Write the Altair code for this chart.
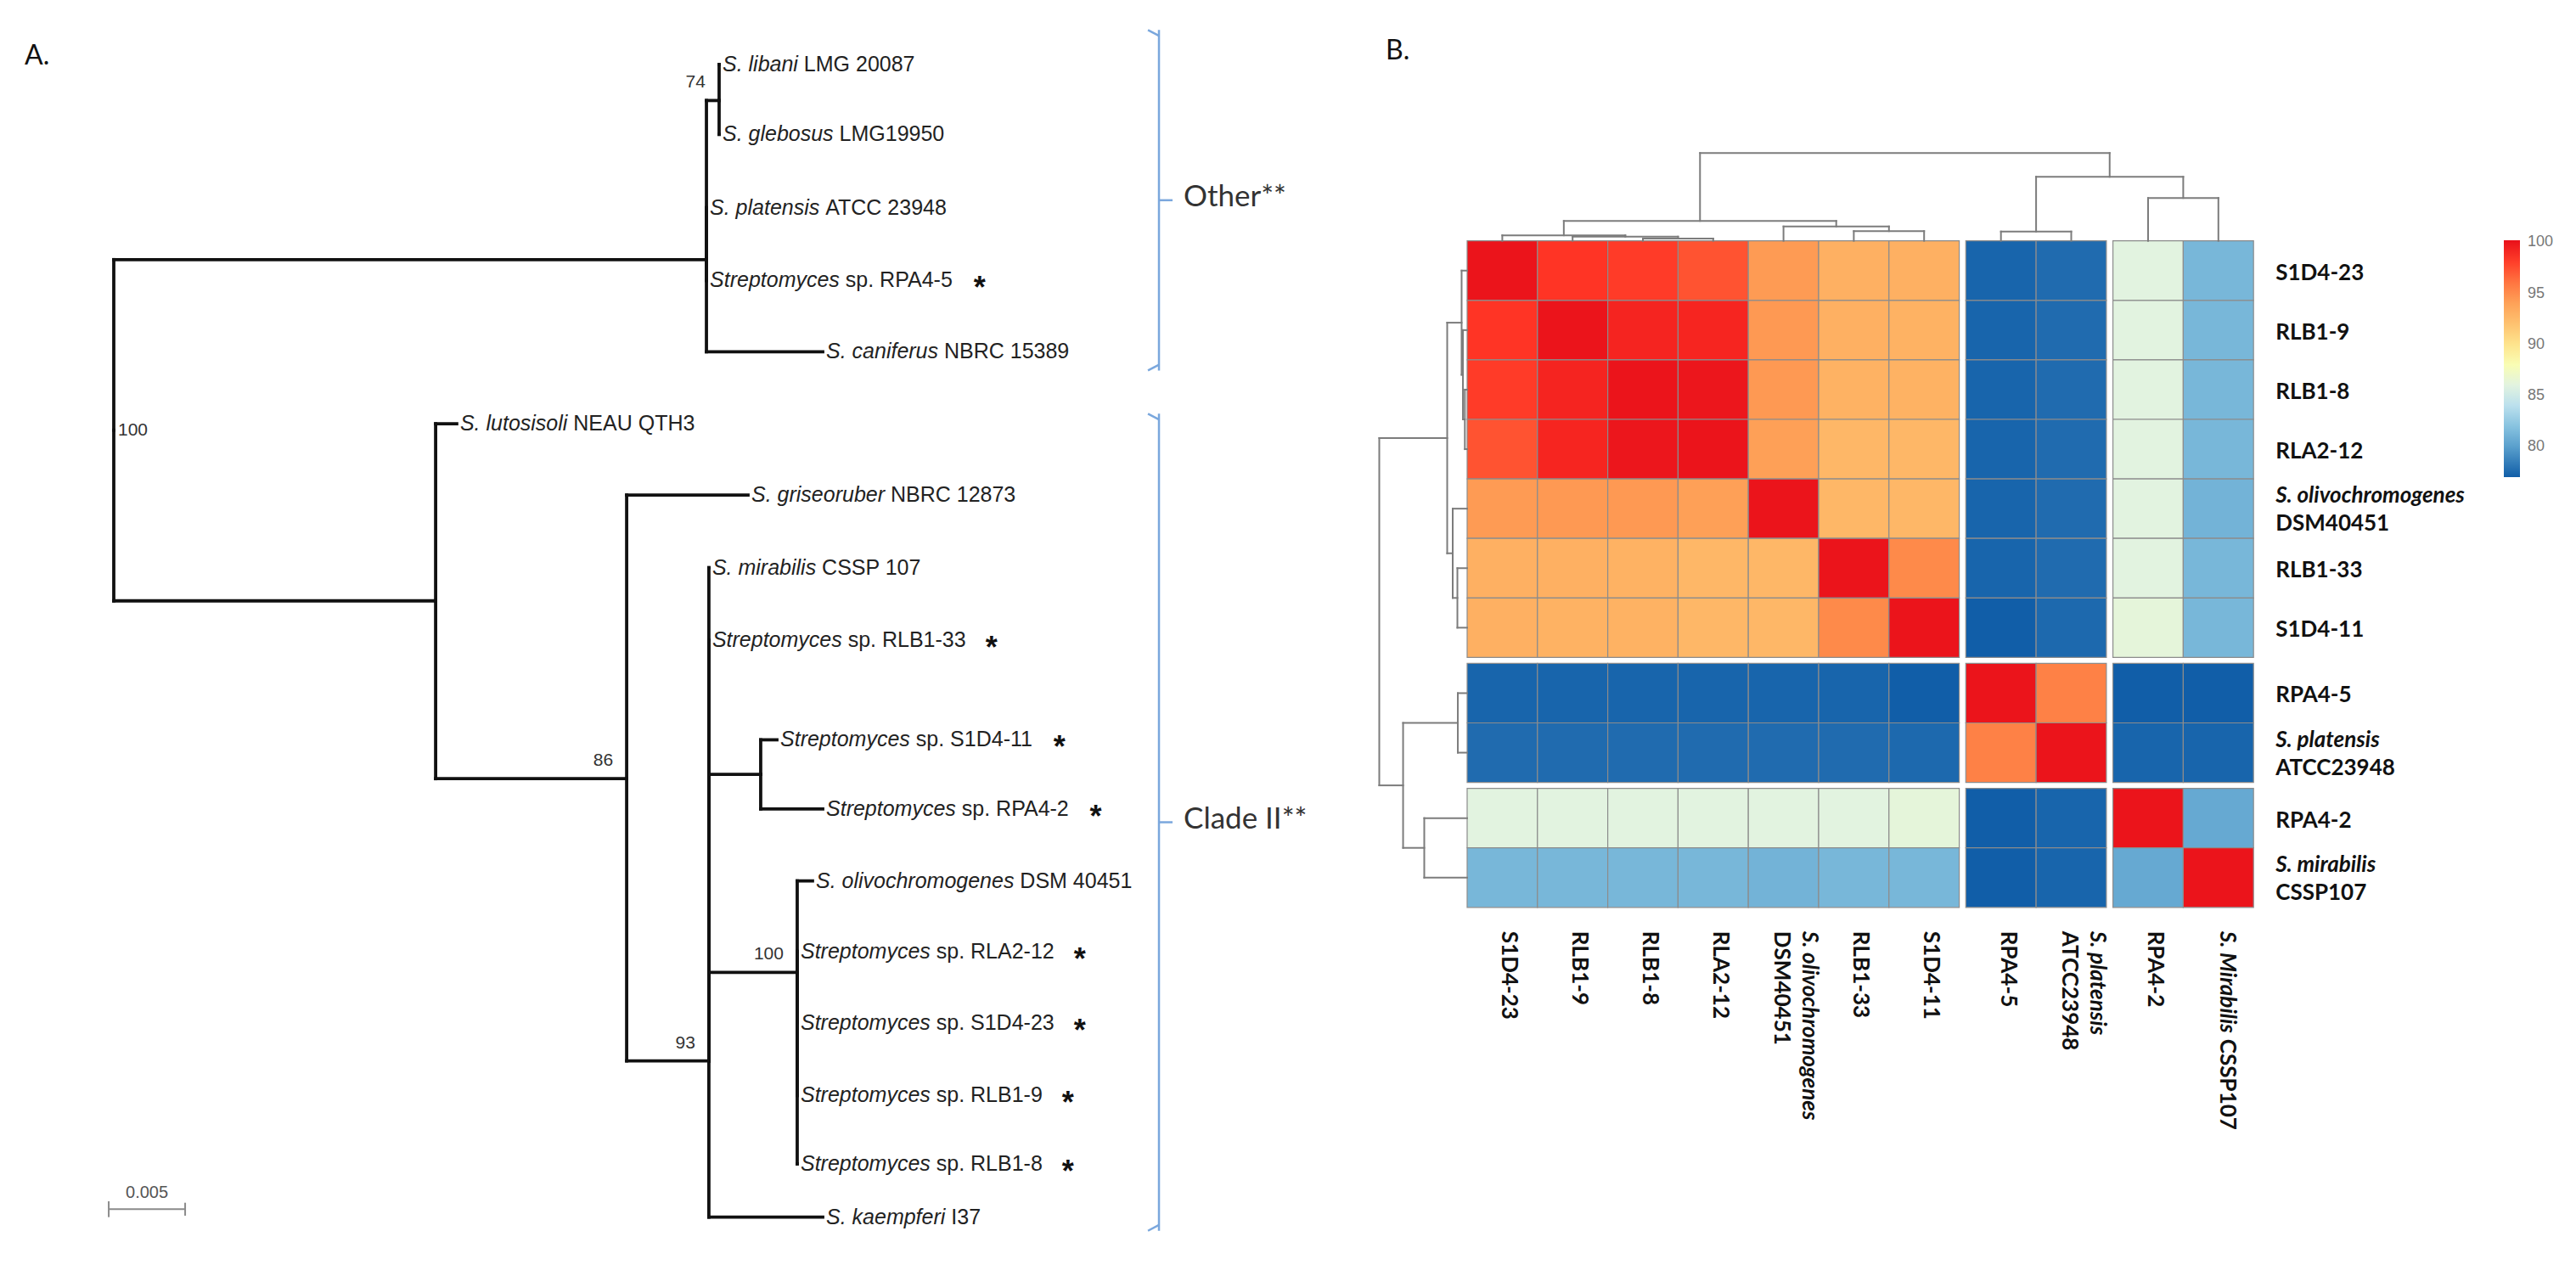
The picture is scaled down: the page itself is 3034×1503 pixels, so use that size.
import altair as alt
import pandas as pd

# ======================= Panel A : phylogenetic tree =======================
leaf_italic = ["S. libani", "S. glebosus", "S. platensis", "Streptomyces", "S. caniferus",
               "S. lutosisoli", "S. griseoruber", "S. mirabilis", "Streptomyces", "Streptomyces",
               "Streptomyces", "S. olivochromogenes", "Streptomyces", "Streptomyces",
               "Streptomyces", "Streptomyces", "S. kaempferi"]
leaf_plain = ["LMG 20087", "LMG19950", "ATCC 23948", "sp. RPA4-5", "NBRC 15389",
              "NEAU QTH3", "NBRC 12873", "CSSP 107", "sp. RLB1-33", "sp. S1D4-11",
              "sp. RPA4-2", "DSM 40451", "sp. RLA2-12", "sp. S1D4-23", "sp. RLB1-9",
              "sp. RLB1-8", "I37"]
leaf_star = [0, 0, 0, 1, 0, 0, 0, 0, 1, 1, 1, 0, 1, 1, 1, 1, 0]
leaf_parent = ["N74", "N74", "Other", "Other", "Other", "NB", "N86", "N93", "N93", "NS", "NS",
               "N100", "N100", "N100", "N100", "N100", "N93"]
leaf_depth = [0.03961, 0.03961, 0.03878, 0.03878, 0.04639, 0.02244, 0.04150, 0.03894,
              0.03894, 0.04339, 0.04639, 0.04572, 0.04472, 0.04472, 0.04472, 0.04472, 0.04639]
leaf_slot = [0.0, 0.97, 1.99, 3.0, 3.99, 4.99, 5.98, 6.99, 8.0, 9.38, 10.34, 11.34,
             12.32, 13.31, 14.32, 15.27, 16.01]

node_names = ["root", "Other", "N74", "NB", "N86", "N93", "NS", "N100"]
node_parent = ["", "root", "Other", "root", "NB", "N86", "N93", "N93"]
node_depth = [0.0, 0.03878, 0.03961, 0.02106, 0.03356, 0.03894, 0.04233, 0.04472]
node_slot = [5.08, 2.71, 0.50, 7.45, 9.92, 13.84, 9.86, 12.61]

boot_node = ["N74", "N86", "N93", "N100"]
boot_value = ["74", "86", "93", "100"]
root_boot_value = "100"

scale_bar_start = -0.00033
scale_bar_length = 0.005
scale_bar_label = "0.005"

clade_names = ["Other**", "Clade II**"]
clade_top = [-0.48, 4.85]
clade_bottom = [4.25, 16.20]

# ======================= Panel B : identity heatmap =======================
strain_ids = ["S1D4-23", "RLB1-9", "RLB1-8", "RLA2-12", "DSM40451", "RLB1-33", "S1D4-11",
              "RPA4-5", "ATCC23948", "RPA4-2", "CSSP107"]
row_species = ["", "", "", "", "S. olivochromogenes", "", "", "", "S. platensis", "", "S. mirabilis"]
col_species = ["", "", "", "", "S. olivochromogenes", "", "", "", "S. platensis", "", "S. Mirabilis"]
col_one_line = [0, 0, 0, 0, 0, 0, 0, 0, 0, 0, 1]
cluster_group = [0, 0, 0, 0, 0, 0, 0, 1, 1, 2, 2]

identity_S1D4_23 = [100.0, 98.45, 98.2, 97.3, 94.4, 93.1, 93.1, 77.3, 77.6, 86.0, 81.3]
identity_RLB1_9 = [98.45, 100.0, 99.25, 99.2, 94.5, 93.1, 93.0, 77.3, 77.6, 86.0, 81.3]
identity_RLB1_8 = [98.2, 99.25, 100.0, 99.9, 94.5, 93.0, 93.0, 77.3, 77.6, 86.0, 81.3]
identity_RLA2_12 = [97.3, 99.2, 99.9, 100.0, 94.1, 92.7, 92.7, 77.3, 77.6, 86.0, 81.3]
identity_DSM40451 = [94.4, 94.5, 94.5, 94.1, 100.0, 92.7, 92.7, 77.3, 77.6, 86.0, 81.1]
identity_RLB1_33 = [93.1, 93.1, 93.0, 92.7, 92.7, 100.0, 95.25, 77.3, 77.6, 86.0, 81.3]
identity_S1D4_11 = [93.1, 93.0, 93.0, 92.7, 92.7, 95.25, 100.0, 77.0, 77.5, 86.3, 81.3]
identity_RPA4_5 = [77.3, 77.3, 77.3, 77.3, 77.3, 77.3, 77.0, 100.0, 95.6, 77.0, 77.0]
identity_ATCC23948 = [77.6, 77.6, 77.6, 77.6, 77.6, 77.6, 77.5, 95.6, 100.0, 77.3, 77.3]
identity_RPA4_2 = [86.0, 86.0, 86.0, 86.0, 86.0, 86.0, 86.3, 77.0, 77.3, 100.0, 80.5]
identity_CSSP107 = [81.3, 81.3, 81.3, 81.3, 81.1, 81.3, 81.3, 77.0, 77.3, 80.5, 100.0]

# hierarchical clustering (same for rows and columns); merges numbered 11..20
merge_a = [2, 1, 0, 5, 4, 13, 7, 9, 17, 16]
merge_b = [3, 11, 12, 6, 14, 15, 8, 10, 18, 19]
merge_height = [0.026, 0.048, 0.063, 0.111, 0.164, 0.227, 0.106, 0.488, 0.729, 1.0]

legend_stops = [77.0, 80.0, 82.0, 85.0, 86.5, 88.5, 90.5, 93.0, 95.0, 97.0, 98.5, 100.2]
legend_colors = ["#115ea8", "#5aa0cd", "#88c3e0", "#d5eef3", "#e8f6d6", "#ffffa8",
                 "#fedb84", "#feb263", "#fe914d", "#ff5b34", "#ff3325", "#e8101a"]
legend_ticks = [80, 85, 90, 95, 100]

# ======================= layout constants (pixels) =======================
A_W, B_W, H = 1592, 1426, 1487
TREE_PX = 18000.0       # px per substitution/site (0.005 -> 90 px)
TREE_ROOT_PX = 126.0
SLOT_PX = 84.8
SLOT0_PX = 68.0
CELL_W, CELL_H = 82.8, 70.1
GAP_W, GAP_H = 7.7, 7.0
HEAT_LEFT, HEAT_TOP = 128.0, 275.7
TREEHEIGHT = 103.5

ARIAL = {' ': 278, '.': 278, '-': 333, '*': 389,
         'A': 667, 'B': 667, 'C': 722, 'D': 722, 'E': 667, 'F': 611, 'G': 778, 'H': 722, 'I': 278,
         'J': 500, 'K': 667, 'L': 556, 'M': 833, 'N': 722, 'O': 778, 'P': 667, 'Q': 778, 'R': 722,
         'S': 667, 'T': 611, 'U': 722, 'V': 667, 'W': 944, 'X': 667, 'Y': 667, 'Z': 611,
         'a': 556, 'b': 556, 'c': 500, 'd': 556, 'e': 556, 'f': 278, 'g': 556, 'h': 556, 'i': 222,
         'j': 222, 'k': 500, 'l': 222, 'm': 833, 'n': 556, 'o': 556, 'p': 556, 'q': 556, 'r': 333,
         's': 500, 't': 278, 'u': 556, 'v': 500, 'w': 722, 'x': 500, 'y': 500, 'z': 500}
LATO_B = {' ': 193, '.': 250, '-': 350, 'C': 660, 'M': 880, 'P': 600, 'S': 500,
          'a': 510, 'b': 560, 'i': 250, 'l': 250, 'r': 370, 's': 430}


def tw(s, size, table, default):
    return sum(table.get(ch, default) for ch in s) * size / 1000.0


def qx(f, sc):
    return alt.X(f, type="quantitative", scale=sc, axis=None)


def qy(f, sc):
    return alt.Y(f, type="quantitative", scale=sc, axis=None)


# ---------------------------- Panel A build ----------------------------
xsA = alt.Scale(domain=[-TREE_ROOT_PX / TREE_PX, (A_W - TREE_ROOT_PX) / TREE_PX], nice=False, zero=False)
ysA = alt.Scale(domain=[-SLOT0_PX / SLOT_PX, (H - SLOT0_PX) / SLOT_PX], nice=False, zero=False, reverse=True)

pos = {n: (d, s) for n, d, s in zip(node_names, node_depth, node_slot)}
segs = []
children = [(p, d, s) for p, d, s in zip(node_parent, node_depth, node_slot) if p]
children += list(zip(leaf_parent, leaf_depth, leaf_slot))
for p, cd, cs in children:
    pd_, ps = pos[p]
    segs.append({"x": pd_, "x2": pd_, "y": ps, "y2": cs})
    segs.append({"x": pd_, "x2": cd, "y": cs, "y2": cs})
seg_df = pd.DataFrame(segs)

FS_TREE = 25
LABEL_DX = 4
rows = []
for it, pl, st, d, s in zip(leaf_italic, leaf_plain, leaf_star, leaf_depth, leaf_slot):
    w_it = tw(it, FS_TREE, ARIAL, 556)
    w_sp = tw(" ", FS_TREE, ARIAL, 556)
    w_pl = tw(pl, FS_TREE, ARIAL, 556)
    rows.append({"depth": d, "slot": s, "italic": it, "plain": pl,
                 "plain_x": d + (w_it + w_sp) / TREE_PX,
                 "star_x": d + (LABEL_DX + w_it + w_sp + w_pl + 30) / TREE_PX,
                 "star": "*" if st else ""})
leaf_df = pd.DataFrame(rows)
star_df = leaf_df[leaf_df["star"] != ""]

boot_df = pd.DataFrame({"depth": [pos[n][0] for n in boot_node],
                        "slot": [pos[n][1] for n in boot_node],
                        "label": boot_value})
root_df = pd.DataFrame({"depth": [pos["root"][0]], "slot": [pos["root"][1]], "label": [root_boot_value]})

sb_y, sb_t0, sb_t1 = 15.90, 15.79, 16.01
bar_df = pd.DataFrame({
    "x": [scale_bar_start, scale_bar_start, scale_bar_start + scale_bar_length],
    "x2": [scale_bar_start + scale_bar_length, scale_bar_start, scale_bar_start + scale_bar_length],
    "y": [sb_y, sb_t0, sb_t0 + 0.02], "y2": [sb_y, sb_t1, sb_t1 - 0.02]})
bar_lab = pd.DataFrame({"x": [scale_bar_start + scale_bar_length / 2], "y": [15.67], "t": [scale_bar_label]})

BR_X, BR_HOOK, BR_TICK, BR_TEXT = 0.06839, 0.06767, 0.06928, 0.07000
br = []
cl = []
for name, t, b in zip(clade_names, clade_top, clade_bottom):
    m = (t + b) / 2
    br += [{"x": BR_X, "x2": BR_X, "y": t, "y2": b},
           {"x": BR_HOOK, "x2": BR_X, "y": t, "y2": t + 0.08},
           {"x": BR_HOOK, "x2": BR_X, "y": b, "y2": b - 0.08},
           {"x": BR_X, "x2": BR_TICK, "y": m, "y2": m}]
    cl.append({"x": BR_TEXT, "y": m, "t": name})
br_df = pd.DataFrame(br)
cl_df = pd.DataFrame(cl)
titleA = pd.DataFrame({"x": [-0.00583], "y": [-0.118], "t": ["A."]})

tree_lines = alt.Chart(seg_df).mark_rule(color="#111111", strokeWidth=3.8, strokeCap="square").encode(
    x=qx("x", xsA), x2=alt.X2("x2"), y=qy("y", ysA), y2=alt.Y2("y2"))
lab_it = alt.Chart(leaf_df).mark_text(align="left", baseline="middle", dx=LABEL_DX, font="Liberation Sans",
                                      fontSize=FS_TREE, fontStyle="italic", color="#222222").encode(
    x=qx("depth", xsA), y=qy("slot", ysA), text="italic:N")
lab_pl = alt.Chart(leaf_df).mark_text(align="left", baseline="middle", dx=LABEL_DX, font="Liberation Sans",
                                      fontSize=FS_TREE, color="#222222").encode(
    x=qx("plain_x", xsA), y=qy("slot", ysA), text="plain:N")
stars = alt.Chart(star_df).mark_text(align="center", baseline="middle", dy=10, font="Liberation Sans",
                                     fontSize=36, fontWeight="bold", color="#111111").encode(
    x=qx("star_x", xsA), y=qy("slot", ysA), text="star:N")
boot = alt.Chart(boot_df).mark_text(align="right", baseline="middle", dx=-16, dy=-21, font="Liberation Sans",
                                    fontSize=21, color="#333333").encode(
    x=qx("depth", xsA), y=qy("slot", ysA), text="label:N")
rboot = alt.Chart(root_df).mark_text(align="left", baseline="middle", dx=5, font="Liberation Sans",
                                     fontSize=21, color="#333333").encode(
    x=qx("depth", xsA), y=qy("slot", ysA), text="label:N")
bar = alt.Chart(bar_df).mark_rule(color="#8a8a8a", strokeWidth=2).encode(
    x=qx("x", xsA), x2=alt.X2("x2"), y=qy("y", ysA), y2=alt.Y2("y2"))
barl = alt.Chart(bar_lab).mark_text(align="center", baseline="middle", font="Liberation Sans",
                                    fontSize=20, color="#555555").encode(
    x=qx("x", xsA), y=qy("y", ysA), text="t:N")
brackets = alt.Chart(br_df).mark_rule(color="#7aa7dd", strokeWidth=2.5).encode(
    x=qx("x", xsA), x2=alt.X2("x2"), y=qy("y", ysA), y2=alt.Y2("y2"))
clade_txt = alt.Chart(cl_df).mark_text(align="left", baseline="middle", dy=-4, font="Lato",
                                       fontSize=35, color="#333333").encode(
    x=qx("x", xsA), y=qy("y", ysA), text="t:N")
tA = alt.Chart(titleA).mark_text(align="left", baseline="middle", font="Lato", fontSize=32,
                                 color="#111111").encode(x=qx("x", xsA), y=qy("y", ysA), text="t:N")

panelA = alt.layer(tree_lines, lab_it, lab_pl, stars, boot, rboot, bar, barl, brackets, clade_txt, tA
                   ).properties(width=A_W, height=H)

# ---------------------------- Panel B build ----------------------------
xsB = alt.Scale(domain=[-HEAT_LEFT / CELL_W, (B_W - HEAT_LEFT) / CELL_W], nice=False, zero=False)
ysB = alt.Scale(domain=[-HEAT_TOP / CELL_H, (H - HEAT_TOP) / CELL_H], nice=False, zero=False, reverse=True)

identity = [identity_S1D4_23, identity_RLB1_9, identity_RLB1_8, identity_RLA2_12, identity_DSM40451,
            identity_RLB1_33, identity_S1D4_11, identity_RPA4_5, identity_ATCC23948, identity_RPA4_2,
            identity_CSSP107]
n = len(strain_ids)
col_u0 = [i + g * GAP_W / CELL_W for i, g in enumerate(cluster_group)]
row_v0 = [i + g * GAP_H / CELL_H for i, g in enumerate(cluster_group)]
heat_right = col_u0[-1] + 1
heat_bottom = row_v0[-1] + 1

cells = []
for r in range(n):
    for c in range(n):
        cells.append({"x0": col_u0[c], "x1": col_u0[c] + 1, "y0": row_v0[r], "y1": row_v0[r] + 1,
                      "identity": identity[r][c]})
heat_df = pd.DataFrame(cells)


def dendro(centers, unit_px):
    p = list(centers)
    h = [0.0] * len(centers)
    out = []
    for a, b, hh in zip(merge_a, merge_b, merge_height):
        hv = -hh * TREEHEIGHT / unit_px
        out.append({"p": p[a], "p2": p[b], "h": hv, "h2": hv})
        out.append({"p": p[a], "p2": p[a], "h": h[a], "h2": hv})
        out.append({"p": p[b], "p2": p[b], "h": h[b], "h2": hv})
        p.append((p[a] + p[b]) / 2)
        h.append(hv)
    return pd.DataFrame(out)


top_df = dendro([u + 0.5 for u in col_u0], CELL_H)
left_df = dendro([v + 0.5 for v in row_v0], CELL_W)

heat = alt.Chart(heat_df).mark_rect(stroke="#8c8c8c", strokeWidth=1.2).encode(
    x=qx("x0", xsB), x2=alt.X2("x1"), y=qy("y0", ysB), y2=alt.Y2("y1"),
    color=alt.Color("identity:Q", title=None,
                    scale=alt.Scale(domain=legend_stops, range=legend_colors, interpolate="rgb", nice=False, zero=False),
                    legend=alt.Legend(orient="none", legendX=1349, legendY=275, direction="vertical",
                                      gradientLength=279, gradientThickness=19, gradientStrokeWidth=0,
                                      values=legend_ticks, labelFont="Liberation Sans", labelFontSize=18,
                                      labelColor="#777777", labelOffset=9, padding=0)))
top_d = alt.Chart(top_df).mark_rule(color="#7c7c7c", strokeWidth=2, strokeCap="square").encode(
    x=qx("p", xsB), x2=alt.X2("p2"), y=qy("h", ysB), y2=alt.Y2("h2"))
left_d = alt.Chart(left_df).mark_rule(color="#7c7c7c", strokeWidth=2, strokeCap="square").encode(
    y=qy("p", ysB), y2=alt.Y2("p2"), x=qx("h", xsB), x2=alt.X2("h2"))

FS_H = 26
HFONT = "Lato"
row_single = pd.DataFrame([{"x": heat_right, "y": row_v0[i] + 0.5, "t": strain_ids[i]}
                           for i in range(n) if not row_species[i]])
row_double = pd.DataFrame([{"x": heat_right, "y": row_v0[i] + 0.5, "sp": row_species[i], "t": strain_ids[i]}
                           for i in range(n) if row_species[i]])
rtext = dict(align="left", baseline="middle", dx=26, font=HFONT, fontSize=FS_H, fontWeight="bold",
             color="#111111")
r1 = alt.Chart(row_single).mark_text(dy=3, **rtext).encode(x=qx("x", xsB), y=qy("y", ysB), text="t:N")
r2 = alt.Chart(row_double).mark_text(dy=-15, fontStyle="italic", **rtext).encode(
    x=qx("x", xsB), y=qy("y", ysB), text="sp:N")
r3 = alt.Chart(row_double).mark_text(dy=18, **rtext).encode(x=qx("x", xsB), y=qy("y", ysB), text="t:N")

lab_y0 = heat_bottom + 28 / CELL_H
col_single = pd.DataFrame([{"x": col_u0[i] + 0.5, "y": lab_y0, "t": strain_ids[i]}
                           for i in range(n) if not col_species[i]])
col_double = pd.DataFrame([{"x": col_u0[i] + 0.5, "y": lab_y0, "sp": col_species[i], "t": strain_ids[i]}
                           for i in range(n) if col_species[i] and not col_one_line[i]])
col_mixed = pd.DataFrame([{"x": col_u0[i] + 0.5, "y": lab_y0, "sp": col_species[i], "t": strain_ids[i],
                           "y_t": lab_y0 + (tw(col_species[i], FS_H, LATO_B, 560)
                                            + tw(" ", FS_H, LATO_B, 560)) / CELL_H}
                          for i in range(n) if col_one_line[i]])
ctext = dict(align="left", baseline="middle", angle=90, font=HFONT, fontSize=FS_H, fontWeight="bold",
             color="#111111")
c1 = alt.Chart(col_single).mark_text(dy=-8, **ctext).encode(x=qx("x", xsB), y=qy("y", ysB), text="t:N")
c2 = alt.Chart(col_double).mark_text(dy=-30, fontStyle="italic", **ctext).encode(
    x=qx("x", xsB), y=qy("y", ysB), text="sp:N")
c3 = alt.Chart(col_double).mark_text(dy=3, **ctext).encode(x=qx("x", xsB), y=qy("y", ysB), text="t:N")
c4 = alt.Chart(col_mixed).mark_text(dy=-10, fontStyle="italic", **ctext).encode(
    x=qx("x", xsB), y=qy("y", ysB), text="sp:N")
c5 = alt.Chart(col_mixed).mark_text(dy=-10, **ctext).encode(x=qx("x", xsB), y=qy("y_t", ysB), text="t:N")

titleB = pd.DataFrame({"x": [-1.159], "y": [-3.19], "t": ["B."]})
tB = alt.Chart(titleB).mark_text(align="left", baseline="middle", font="Lato", fontSize=32,
                                 color="#111111").encode(x=qx("x", xsB), y=qy("y", ysB), text="t:N")

panelB = alt.layer(heat, top_d, left_d, r1, r2, r3, c1, c2, c3, c4, c5, tB).properties(width=B_W, height=H)

chart = alt.hconcat(panelA, panelB, spacing=0, bounds="flush").resolve_scale(
    color="independent").properties(padding=0).configure_view(strokeWidth=0)

chart.save("out.html", embed_options={"renderer": "svg", "actions": False})
